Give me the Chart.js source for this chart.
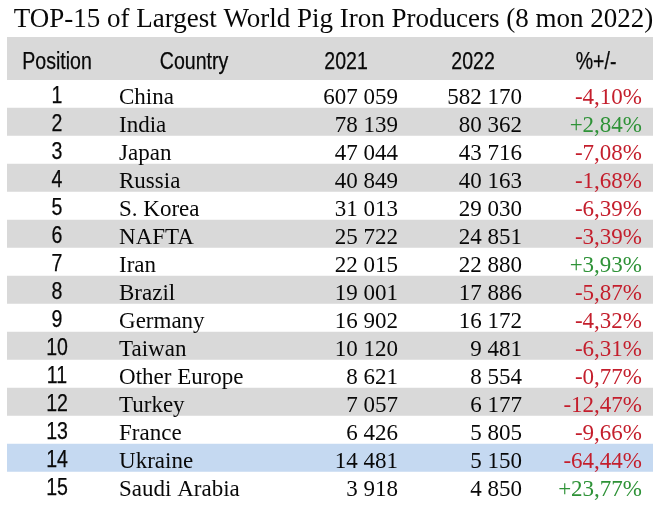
<!DOCTYPE html>
<html>
<head>
<meta charset="utf-8">
<title>TOP-15 Pig Iron Producers</title>
<script src="https://cdn.jsdelivr.net/npm/chart.js@4/dist/chart.umd.min.js"></script>
<style>
  html, body { margin: 0; padding: 0; background: #ffffff; }
  #wrap { width: 667px; height: 505px; }
</style>
</head>
<body>
<div id="wrap"><canvas id="myChart" width="667" height="505"></canvas></div>
<script>
// Datos de la tabla
const chartTitle = 'TOP-15 of Largest World Pig Iron Producers (8 mon 2022)';
const headers = ['Position', 'Country', '2021', '2022', '%+/-'];
const positions = [1, 2, 3, 4, 5, 6, 7, 8, 9, 10, 11, 12, 13, 14, 15];
const countries = ['China', 'India', 'Japan', 'Russia', 'S. Korea', 'NAFTA', 'Iran', 'Brazil',
    'Germany', 'Taiwan', 'Other Europe', 'Turkey', 'France', 'Ukraine', 'Saudi Arabia'];
const values2021 = [607059, 78139, 47044, 40849, 31013, 25722, 22015, 19001, 16902, 10120, 8621, 7057, 6426, 14481, 3918];
const values2022 = [582170, 80362, 43716, 40163, 29030, 24851, 22880, 17886, 16172, 9481, 8554, 6177, 5805, 5150, 4850];
const changes = [-4.10, 2.84, -7.08, -1.68, -6.39, -3.39, 3.93, -5.87, -4.32, -6.31, -0.77, -12.47, -9.66, -64.44, 23.77];
const highlighted = ['Ukraine'];

// Colores y posiciones de columnas (en unidades del eje x, 0-100)
const colGrey = '#d9d9d9';
const colBlue = '#c5d9f1';
const colRed = '#c41e2c';
const colGreen = '#2e9237';
const colText = '#080808';
const colAnchors = {
    pos: 7.74, country: 17.34, countryHead: 28.95,
    v2021: 60.53, head2021: 52.48,
    v2022: 79.72, head2022: 72.14,
    pct: 98.3, headPct: 91.18
};

function fmtNum(n) {
    return String(n).replace(/\B(?=(\d{3})+(?!\d))/g, ' ');
}
function fmtPct(p) {
    return (p > 0 ? '+' : '') + p.toFixed(2).replace('.', ',') + '%';
}

// Texto sans comprimido horizontalmente (parecido a Arial Narrow)
function narrowText(ctx, txt, x, y, align) {
    ctx.save();
    ctx.font = '23px "Liberation Sans", Arial, sans-serif';
    ctx.textAlign = align;
    ctx.textBaseline = 'alphabetic';
    ctx.translate(x, y);
    ctx.scale(0.85, 1);
    ctx.fillText(txt, 0, 0);
    // un poco mas de grosor, como en la imagen original
    ctx.strokeStyle = ctx.fillStyle;
    ctx.lineWidth = 0.25;
    ctx.strokeText(txt, 0, 0);
    ctx.restore();
}

const tablePlugin = {
    id: 'tablePlugin',
    beforeDatasetsDraw(chart) {
        const ctx = chart.ctx;
        const xs = chart.scales.x;
        const top = chart.chartArea.top;
        // banda gris del encabezado
        ctx.save();
        ctx.fillStyle = colGrey;
        const x0 = xs.getPixelForValue(0);
        ctx.fillRect(x0, 37, xs.getPixelForValue(100) - x0, top - 37);
        ctx.restore();
    },
    afterDatasetsDraw(chart) {
        const ctx = chart.ctx;
        const xs = chart.scales.x;
        const ys = chart.scales.y;
        const top = chart.chartArea.top;

        ctx.save();
        ctx.fillStyle = colText;
        // titulo
        ctx.font = '27px "Liberation Serif", "Times New Roman", serif';
        ctx.textAlign = 'center';
        ctx.textBaseline = 'alphabetic';
        ctx.fillText(chartTitle, chart.width / 2, 27);

        // encabezados
        const hy = (37 + top) / 2 + 10.5;
        narrowText(ctx, headers[0], xs.getPixelForValue(colAnchors.pos), hy, 'center');
        narrowText(ctx, headers[1], xs.getPixelForValue(colAnchors.countryHead), hy, 'center');
        narrowText(ctx, headers[2], xs.getPixelForValue(colAnchors.head2021), hy, 'center');
        narrowText(ctx, headers[3], xs.getPixelForValue(colAnchors.head2022), hy, 'center');
        narrowText(ctx, headers[4], xs.getPixelForValue(colAnchors.headPct), hy, 'center');

        // filas
        countries.forEach((c, i) => {
            const cy = ys.getPixelForValue(i);
            ctx.fillStyle = colText;
            narrowText(ctx, String(positions[i]), xs.getPixelForValue(colAnchors.pos), cy + 8.5, 'center');

            ctx.font = '23px "Liberation Serif", "Times New Roman", serif';
            ctx.textBaseline = 'alphabetic';
            ctx.textAlign = 'left';
            ctx.fillText(c, xs.getPixelForValue(colAnchors.country), cy + 9.5);
            ctx.textAlign = 'right';
            ctx.fillText(fmtNum(values2021[i]), xs.getPixelForValue(colAnchors.v2021), cy + 9.5);
            ctx.fillText(fmtNum(values2022[i]), xs.getPixelForValue(colAnchors.v2022), cy + 9.5);
            ctx.fillStyle = changes[i] < 0 ? colRed : colGreen;
            ctx.fillText(fmtPct(changes[i]), xs.getPixelForValue(colAnchors.pct), cy + 9.5);
        });
        ctx.restore();
    }
};

document.addEventListener('DOMContentLoaded', function () {
    const ctx = document.getElementById('myChart').getContext('2d');

    const rowColors = countries.map((c, i) => {
        if (highlighted.includes(c)) return colBlue;
        return i % 2 === 1 ? colGrey : '#ffffff';
    });

    new Chart(ctx, {
        type: 'bar',
        data: {
            labels: countries,
            datasets: [{
                label: 'rows',
                data: countries.map(() => [0, 100]),
                backgroundColor: rowColors,
                borderWidth: 0,
                barPercentage: 1,
                categoryPercentage: 1
            }]
        },
        options: {
            indexAxis: 'y',
            responsive: false,
            animation: false,
            layout: { padding: { top: 80, bottom: 5, left: 7, right: 14 } },
            plugins: {
                legend: { display: false },
                tooltip: { enabled: false },
                title: { display: false }
            },
            scales: {
                x: { type: 'linear', min: 0, max: 100, display: false },
                y: { type: 'category', display: false, offset: true }
            }
        },
        plugins: [tablePlugin]
    });
});
</script>
</body>
</html>
